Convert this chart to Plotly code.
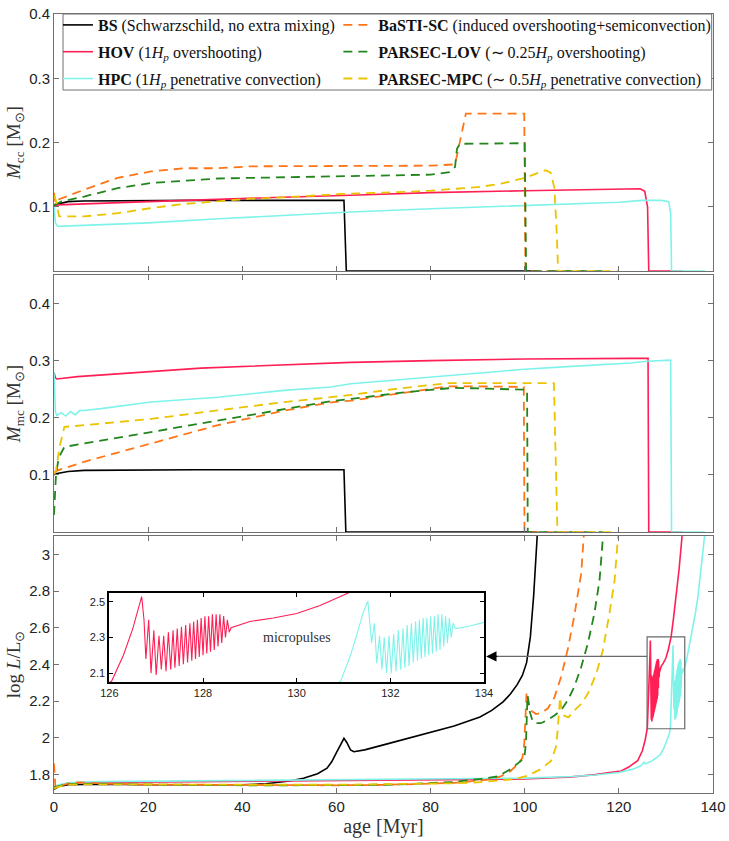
import plotly.graph_objects as go

# ---------------- data ----------------
# convective core mass M_cc [Msun]
bs_cc_age = [0, 1, 3, 6, 30, 61.6, 62.1, 102.7]
bs_cc = [0.103, 0.105, 0.108, 0.109, 0.110, 0.110, 0.0, 0.0]

hov_cc_age = [0, 0.8, 20, 31, 45, 63, 80, 100, 122, 124.5, 125.5, 126.1, 126.35, 133.5]
hov_cc = [0.101, 0.103, 0.108, 0.111, 0.114, 0.118, 0.122, 0.125, 0.128, 0.128, 0.124, 0.10, 0.0, 0.0]

hpc_cc_age = [0, 0.3, 0.8, 6.4, 20, 35, 50, 63, 80, 100, 120, 125, 129, 130.6, 131.0, 131.2, 138.3]
hpc_cc = [0.10, 0.075, 0.0695, 0.071, 0.075, 0.0814, 0.087, 0.092, 0.097, 0.102, 0.107, 0.110, 0.110, 0.108, 0.09, 0.0, 0.0]

basti_cc_age = [0, 0.3, 0.8, 6.4, 13.5, 20.6, 27.7, 34.8, 41.8, 48.9, 56, 62.3, 70, 80, 85.2, 85.8, 86.3, 87.5, 99.9, 100.15, 112.6]
basti_cc = [0.122, 0.106, 0.111, 0.1266, 0.145, 0.155, 0.160, 0.160, 0.163, 0.163, 0.164, 0.164, 0.164, 0.164, 0.166, 0.188, 0.205, 0.245, 0.245, 0.0, 0.0]

lov_cc_age = [0, 1.5, 6.4, 13.5, 20.6, 27.7, 34.8, 41.8, 48.9, 56, 62.3, 70, 80, 84, 85.2, 85.6, 86.2, 100.0, 100.3, 116.7]
lov_cc = [0.102, 0.108, 0.116, 0.129, 0.137, 0.141, 0.144, 0.145, 0.146, 0.147, 0.1485, 0.149, 0.150, 0.154, 0.162, 0.19, 0.198, 0.199, 0.0, 0.0]

mpc_cc_age = [0, 0.4, 1.1, 6.4, 13.5, 20.6, 27.7, 34.8, 41.8, 48.9, 56, 61, 70, 80, 90.5, 95, 100, 103, 104.4, 105.5, 106.3, 106.8, 107.1, 119.9]
mpc_cc = [0.118, 0.11, 0.085, 0.085, 0.090, 0.098, 0.1045, 0.1085, 0.1126, 0.1147, 0.1178, 0.120, 0.122, 0.125, 0.131, 0.136, 0.145, 0.154, 0.157, 0.153, 0.13, 0.06, 0.0, 0.0]

# mixed (max extent of convective) core mass M_mc [Msun]
bs_mc_age = [0, 0.4, 3, 6.4, 30, 61.6, 62.0, 102.7]
bs_mc = [0.10, 0.102, 0.106, 0.108, 0.109, 0.109, 0.0, 0.0]

hov_mc_age = [0, 0.3, 0.64, 5, 31.2, 58.8, 63.1, 80, 100, 122.5, 126.2, 126.35, 133.5]
hov_mc = [0.28, 0.27, 0.268, 0.272, 0.287, 0.296, 0.297, 0.300, 0.303, 0.304, 0.304, 0.0, 0.0]

hpc_mc_age = [0, 0.3, 0.64, 1.5, 2.5, 3.5, 4.5, 5.5, 6.4, 10, 20.6, 34.8, 48.9, 58.8, 63.1, 75, 87.1, 100, 110, 122.5, 126, 131.0, 131.2, 138.3]
hpc_mc = [0.28, 0.21, 0.204, 0.209, 0.203, 0.211, 0.205, 0.213, 0.2128, 0.216, 0.2275, 0.236, 0.248, 0.254, 0.2595, 0.268, 0.277, 0.285, 0.29, 0.296, 0.299, 0.301, 0.0, 0.0]

basti_mc_age = [0, 0.78, 6.4, 20.6, 34.8, 48.9, 58.8, 63.1, 73, 83.6, 90, 99.8, 99.95, 112.6]
basti_mc = [0.104, 0.108, 0.123, 0.155, 0.187, 0.2126, 0.227, 0.230, 0.242, 0.255, 0.255, 0.254, 0.0, 0.0]

lov_mc_age = [0, 0.42, 1.0, 2.2, 6.4, 20.6, 34.8, 48.9, 58.8, 63.1, 73, 80, 85.0, 92, 100.5, 100.65, 116.7]
lov_mc = [0.03, 0.10, 0.13, 0.149, 0.155, 0.175, 0.1955, 0.216, 0.229, 0.233, 0.2432, 0.249, 0.2524, 0.251, 0.249, 0.0, 0.0]

mpc_mc_age = [0, 0.42, 1.2, 2.2, 6.4, 20.6, 34.8, 48.9, 58.8, 63.1, 73, 83.6, 95, 105.9, 106.2, 106.95, 119.9]
mpc_mc = [0.10, 0.108, 0.15, 0.184, 0.187, 0.198, 0.213, 0.2275, 0.236, 0.240, 0.251, 0.2606, 0.2606, 0.2606, 0.2606, 0.0, 0.0]

# luminosity log L/Lsun
bs_L_age = [0, 1, 3, 6, 10, 20, 30, 40, 45, 50, 53, 56, 58, 59, 60, 61, 61.6, 62.2, 63.0, 63.7, 66, 70, 75, 80, 85,
            90.5, 93, 95.4, 97, 98.4, 99.5, 100.4, 101.2, 101.9, 102.3, 102.7]
bs_L = [1.72, 1.735, 1.745, 1.748, 1.748, 1.745, 1.743, 1.745, 1.75, 1.765, 1.78, 1.805, 1.835, 1.87, 1.92, 1.97,
        1.998, 1.975, 1.935, 1.925, 1.935, 1.962, 1.995, 2.03, 2.065, 2.114, 2.15, 2.196, 2.24, 2.29, 2.34, 2.41,
        2.55, 2.775, 2.94, 3.12]

# HOV thermal micropulse episode (also shown in the inset)
hov_pulse_age = [126.05, 126.3, 126.5, 126.62, 126.69, 126.74, 126.78, 126.84, 126.89, 126.95, 127.00, 127.06,
                 127.11, 127.16, 127.21, 127.26, 127.31, 127.36, 127.40, 127.45, 127.49, 127.54, 127.58, 127.63,
                 127.67, 127.72, 127.76, 127.80, 127.84, 127.88, 127.92, 127.96, 128.00, 128.04, 128.08, 128.12,
                 128.16, 128.20, 128.24, 128.28, 128.32, 128.36, 128.40, 128.44, 128.48, 128.52, 128.56, 128.60]
hov_pulse = [2.055, 2.2, 2.35, 2.46, 2.53, 2.40, 2.18, 2.40, 2.10, 2.34, 2.09, 2.31,
             2.12, 2.31, 2.11, 2.33, 2.12, 2.34, 2.13, 2.35, 2.14, 2.36, 2.15, 2.37,
             2.16, 2.38, 2.17, 2.39, 2.18, 2.40, 2.19, 2.41, 2.20, 2.42, 2.21, 2.42,
             2.22, 2.43, 2.23, 2.43, 2.25, 2.43, 2.27, 2.42, 2.30, 2.40, 2.33, 2.355]
hov_L_age = ([0, 1, 3, 6, 10, 20, 40, 60, 80, 100, 110, 115, 118, 120.5, 122, 124, 125, 125.6]
             + hov_pulse_age + [129.0, 129.5, 130.0, 130.5, 131.1, 131.6, 132.2, 132.8, 133.5])
hov_L = ([1.73, 1.742, 1.752, 1.757, 1.758, 1.76, 1.763, 1.766, 1.77, 1.776, 1.788, 1.80, 1.812, 1.82, 1.84,
          1.876, 1.93, 1.99]
         + hov_pulse + [2.39, 2.41, 2.435, 2.48, 2.55, 2.65, 2.77, 2.92, 3.12])

# HPC thermal micropulse episode
hpc_pulse_age = [130.94, 131.15, 131.3, 131.42, 131.52, 131.56, 131.60, 131.66, 131.71, 131.77, 131.82, 131.87,
                 131.92, 131.97, 132.02, 132.07, 132.12, 132.17, 132.22, 132.27, 132.31, 132.36, 132.40, 132.45,
                 132.49, 132.54, 132.58, 132.62, 132.66, 132.70, 132.74, 132.78, 132.82, 132.86, 132.90, 132.94,
                 132.98, 133.02, 133.06, 133.10, 133.14, 133.18, 133.22, 133.26, 133.30, 133.34, 133.39]
hpc_pulse = [2.055, 2.2, 2.33, 2.44, 2.505, 2.40, 2.27, 2.38, 2.155, 2.31, 2.12, 2.30,
             2.10, 2.31, 2.10, 2.32, 2.11, 2.34, 2.12, 2.35, 2.13, 2.37, 2.14, 2.38,
             2.16, 2.39, 2.17, 2.40, 2.18, 2.41, 2.19, 2.41, 2.20, 2.42, 2.21, 2.42,
             2.22, 2.43, 2.23, 2.43, 2.25, 2.42, 2.27, 2.41, 2.30, 2.38, 2.35]
hpc_L_age = ([0, 1, 3, 6, 10, 20, 40, 60, 80, 100, 110, 115, 120, 123, 124.8, 125.3, 125.6, 126.0, 127.0,
              128.0, 128.7, 129.5, 130.3, 130.7]
             + hpc_pulse_age + [133.7, 134.0, 134.5, 135.1, 135.6, 136.2, 136.8, 137.5, 138.3])
hpc_L = ([1.73, 1.745, 1.755, 1.76, 1.762, 1.764, 1.767, 1.77, 1.774, 1.781, 1.79, 1.798, 1.812, 1.83, 1.85,
          1.868, 1.86, 1.862, 1.875, 1.89, 1.905, 1.94, 1.99, 2.02]
         + hpc_pulse + [2.365, 2.385, 2.44, 2.52, 2.59, 2.67, 2.77, 2.92, 3.12])

basti_L_age = [0, 0.3, 1, 3, 5, 8, 12, 20, 30, 40, 50, 60, 70, 80, 85, 88, 90.7, 92.8, 94.9, 97.0, 98.5, 99.5,
               99.9, 100.1, 100.4, 100.7, 101.3, 102.4, 103.4, 104.9, 106.3, 107.7, 109.1, 110.5, 112.0, 112.6]
basti_L = [1.86, 1.73, 1.735, 1.752, 1.758, 1.754, 1.75, 1.746, 1.744, 1.743, 1.742, 1.742, 1.744, 1.75, 1.755,
           1.762, 1.768, 1.775, 1.79, 1.82, 1.857, 1.89, 1.967, 2.076, 2.25, 2.20, 2.15, 2.13, 2.135, 2.16, 2.22,
           2.33, 2.477, 2.66, 2.896, 3.12]

lov_L_age = [0, 1, 3, 5, 10, 20, 30, 40, 50, 60, 70, 75, 80, 85, 90.7, 94.2, 97.05, 98.8, 99.9, 100.25, 100.45,
             100.6, 100.8, 101.0, 101.7, 102.4, 103.4, 104.9, 106.3, 107.7, 109.1, 110.5, 112.0, 113.4, 114.8,
             115.9, 116.7]
lov_L = [1.73, 1.738, 1.748, 1.75, 1.749, 1.746, 1.744, 1.742, 1.742, 1.742, 1.745, 1.748, 1.752, 1.76, 1.777,
         1.79, 1.83, 1.867, 1.89, 1.967, 2.1, 2.23, 2.2, 2.149, 2.09, 2.08, 2.08, 2.098, 2.122, 2.149, 2.203,
         2.276, 2.386, 2.513, 2.678, 2.86, 3.12]

mpc_L_age = [0, 1, 3, 5, 10, 20, 40, 60, 70, 80, 85, 90, 94.2, 97.8, 100.6, 103.4, 105.6, 106.6, 107.0, 107.3,
             107.5, 107.8, 108.4, 109.3, 110.5, 112.0, 113.4, 115.2, 116.6, 118.0, 119.1, 119.9]
mpc_L = [1.725, 1.735, 1.745, 1.747, 1.747, 1.745, 1.745, 1.745, 1.747, 1.75, 1.753, 1.758, 1.766, 1.775, 1.794,
         1.83, 1.875, 1.948, 2.04, 2.149, 2.22, 2.158, 2.12, 2.112, 2.149, 2.185, 2.24, 2.35, 2.477, 2.678, 2.86,
         3.12]

age_ticks = [0, 20, 40, 60, 80, 100, 120, 140]
inset_age_ticks = [126, 128, 130, 132, 134]

# ---------------- styling ----------------
SERIF = "Liberation Serif"
SANS = "Liberation Sans"
AXIS_GREY = "#707070"

models = [
    # name, legend label, colour, dash, width, which legend, (cc), (mc), (L)
    ("BS", "<b>BS</b> (Schwarzschild, no extra mixing)", "#000000", "solid", 1.6, "legend",
     (bs_cc_age, bs_cc), (bs_mc_age, bs_mc), (bs_L_age, bs_L)),
    ("HOV", "<b>HOV</b> (1<i>H<sub>p</sub></i> overshooting)", "#ff1f55", "solid", 1.6, "legend",
     (hov_cc_age, hov_cc), (hov_mc_age, hov_mc), (hov_L_age, hov_L)),
    ("HPC", "<b>HPC</b> (1<i>H<sub>p</sub></i> penetrative convection)", "#7ff3ea", "solid", 1.6, "legend",
     (hpc_cc_age, hpc_cc), (hpc_mc_age, hpc_mc), (hpc_L_age, hpc_L)),
    ("BaSTI-SC", "<b>BaSTI-SC</b> (induced overshooting+semiconvection)", "#ff7518", "9px,6px", 1.8, "legend2",
     (basti_cc_age, basti_cc), (basti_mc_age, basti_mc), (basti_L_age, basti_L)),
    ("PARSEC-LOV", "<b>PARSEC-LOV</b> (∼ 0.25<i>H<sub>p</sub></i> overshooting)", "#23861c", "9px,6px", 1.8, "legend2",
     (lov_cc_age, lov_cc), (lov_mc_age, lov_mc), (lov_L_age, lov_L)),
    ("PARSEC-MPC", "<b>PARSEC-MPC</b> (∼ 0.5<i>H<sub>p</sub></i> penetrative convection)", "#ebc400", "9px,6px", 1.8, "legend2",
     (mpc_cc_age, mpc_cc), (mpc_mc_age, mpc_mc), (mpc_L_age, mpc_L)),
]

fig = go.Figure()

for name, label, color, dash, width, leg, cc, mc, lum in models:
    for i, (xs, ys) in enumerate([cc, mc, lum]):
        fig.add_trace(go.Scatter(
            x=xs, y=ys, mode="lines", name=label, legendgroup=name, legend=leg,
            showlegend=(i == 0),
            line=dict(color=color, dash=dash, width=width),
            xaxis="x" if i == 0 else f"x{i + 1}",
            yaxis="y" if i == 0 else f"y{i + 1}",
        ))

# inset with the micropulses
fig.add_trace(go.Scatter(x=hov_L_age, y=hov_L, mode="lines", showlegend=False,
                         line=dict(color="#ff1f55", width=1.1), xaxis="x4", yaxis="y4"))
fig.add_trace(go.Scatter(x=hpc_L_age, y=hpc_L, mode="lines", showlegend=False,
                         line=dict(color="#7ff3ea", width=1.1), xaxis="x4", yaxis="y4"))

frame = dict(showline=True, linecolor=AXIS_GREY, linewidth=1, mirror="allticks", ticks="inside",
             ticklen=5, tickcolor=AXIS_GREY, showgrid=False, zeroline=False, automargin=False,
             tickfont=dict(family=SANS, size=15, color="#222222"))
ytitle_font = dict(family=SERIF, size=19, color="#333333")
xtitle_font = dict(family=SERIF, size=20, color="#333333")

xcommon = dict(frame, range=[0, 140], tickvals=age_ticks)
fig.update_layout(
    xaxis=dict(xcommon, anchor="y", matches="x3", showticklabels=False),
    xaxis2=dict(xcommon, anchor="y2", matches="x3", showticklabels=False),
    xaxis3=dict(xcommon, anchor="y3",
                title=dict(text="age [Myr]", font=xtitle_font, standoff=0)),
    yaxis=dict(frame, domain=[0.670, 1.0], range=[0, 0.4], tickvals=[0.1, 0.2, 0.3, 0.4], anchor="x",
               title=dict(text="<i>M</i><sub>cc</sub> [M<sub>⊙</sub>]", font=ytitle_font, standoff=3)),
    yaxis2=dict(frame, domain=[0.335, 0.665], range=[0, 0.45], tickvals=[0.1, 0.2, 0.3, 0.4], anchor="x2",
                title=dict(text="<i>M</i><sub>mc</sub> [M<sub>⊙</sub>]", font=ytitle_font, standoff=3)),
    yaxis3=dict(frame, domain=[0.0, 0.33], range=[1.7, 3.1], dtick=0.2, tick0=1.8, anchor="x3",
                title=dict(text="log <i>L</i>/L<sub>⊙</sub>", font=ytitle_font, standoff=3)),
    xaxis4=dict(frame, domain=[0.084, 0.6525], range=[126, 134], tickvals=inset_age_ticks, anchor="y4",
                linecolor="#000000", linewidth=2, tickcolor="#000000", ticklen=4,
                tickfont=dict(family=SANS, size=11, color="#222222")),
    yaxis4=dict(frame, domain=[0.1425, 0.2567], range=[2.05, 2.55], tickvals=[2.1, 2.3, 2.5], anchor="x4",
                linecolor="#000000", linewidth=2, tickcolor="#000000", ticklen=4,
                tickfont=dict(family=SANS, size=11, color="#222222")),
)

# legend frame (both legend columns sit inside it)
fig.add_shape(type="rect", xref="paper", yref="paper", x0=0.0137, x1=0.998, y0=0.9024, y1=1.0,
              fillcolor="white", line=dict(color=AXIS_GREY, width=1), layer="above")

# zoom box and arrow pointing to the inset
fig.add_shape(type="rect", xref="x3", yref="y3", x0=126, x1=134, y0=2.05, y1=2.55,
              line=dict(color="#6a6a6a", width=1.2))
fig.add_shape(type="line", xref="x3", yref="y3", x0=126, x1=93, y0=2.444, y1=2.444,
              line=dict(color="#6a6a6a", width=1.2))
fig.add_annotation(xref="x3", yref="y3", axref="x3", ayref="y3", x=91.8, y=2.444, ax=94.5, ay=2.444,
                   text="", showarrow=True, arrowhead=2, arrowsize=1.6, arrowwidth=1.3, arrowcolor="#000000")
fig.add_annotation(xref="x4", yref="y4", x=130, y=2.3, text="micropulses", showarrow=False,
                   font=dict(family=SERIF, size=14, color="#333333"))

legend_common = dict(orientation="v", yanchor="top", xanchor="left", y=1.0077,
                     bgcolor="rgba(0,0,0,0)", borderwidth=0, itemwidth=30, tracegroupgap=3,
                     font=dict(family=SERIF, size=16, color="#111111"))

fig.update_layout(
    width=729, height=841,
    margin=dict(l=54, r=16, t=14, b=48, autoexpand=False),
    paper_bgcolor="white", plot_bgcolor="white",
    legend=dict(legend_common, x=0.006),
    legend2=dict(legend_common, x=0.4315),
)

# drop the default 8 px page margin so the 729 x 841 figure fills the window exactly
fig.write_html("out.html", config={"displayModeBar": False},
               post_script="document.body.style.margin='0';document.body.style.overflow='hidden';")
